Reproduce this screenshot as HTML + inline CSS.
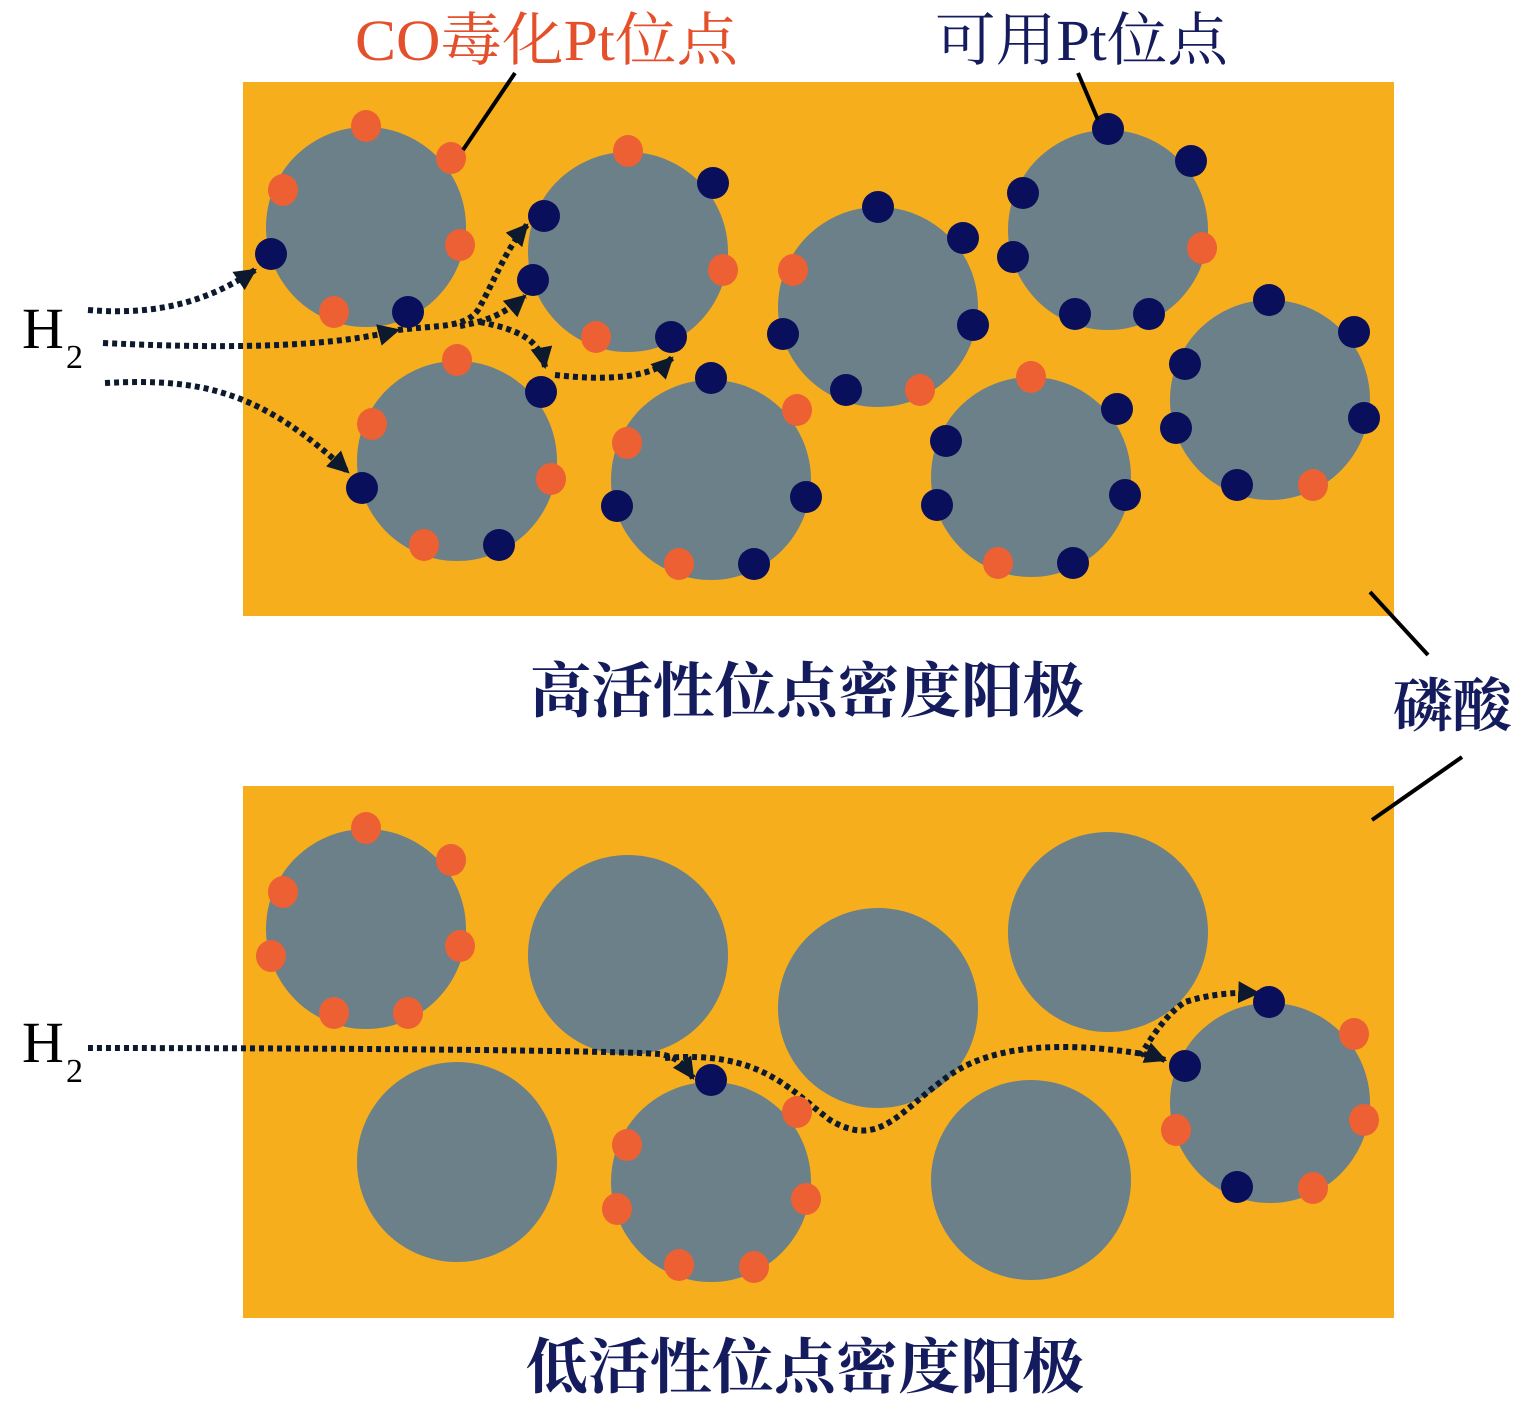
<!DOCTYPE html>
<html><head><meta charset="utf-8"><style>html,body{margin:0;padding:0;background:#fff}svg{display:block}</style></head>
<body>
<svg width="1528" height="1415" viewBox="0 0 1528 1415" xmlns="http://www.w3.org/2000/svg">
<defs>
<marker id="ah" markerWidth="8" markerHeight="8" refX="6" refY="4" orient="auto" markerUnits="userSpaceOnUse" viewBox="0 0 8 8">
</marker>
<marker id="a" viewBox="0 0 10 10" refX="9" refY="5" markerWidth="22" markerHeight="22" markerUnits="userSpaceOnUse" orient="auto"><path d="M0,0 L10,5 L0,10 Z" fill="#0d1a2e"/></marker>
</defs>
<rect x="243" y="82" width="1151" height="534" fill="#F6AE1C"/>
<rect x="243" y="786" width="1151" height="532" fill="#F6AE1C"/>
<g fill="#6B8088">
<circle cx="366" cy="227" r="100"/><circle cx="628" cy="252" r="100"/><circle cx="878" cy="307" r="100"/><circle cx="1108" cy="230" r="100"/><circle cx="1270" cy="400" r="100"/><circle cx="457" cy="461" r="100"/><circle cx="711" cy="480" r="100"/><circle cx="1031" cy="477" r="100"/>
<circle cx="366" cy="929" r="100"/><circle cx="628" cy="955" r="100"/><circle cx="878" cy="1008" r="100"/><circle cx="1108" cy="932" r="100"/><circle cx="1270" cy="1103" r="100"/><circle cx="457" cy="1162" r="100"/><circle cx="711" cy="1182" r="100"/><circle cx="1031" cy="1180" r="100"/>
</g>
<g fill="none" stroke="#0d1a2e" stroke-width="6" stroke-dasharray="5 4">
<path d="M88,310 C160,316 210,300 255,270" marker-end="url(#a)"/>
<path d="M103,343 C250,350 340,345 398,330" marker-end="url(#a)"/>
<path d="M398,330 C440,325 465,328 478,310 C495,280 505,250 527,225" marker-end="url(#a)"/>
<path d="M460,326 C480,322 500,318 525,296" marker-end="url(#a)"/>
<path d="M480,322 C520,330 540,340 545,367" marker-end="url(#a)"/>
<path d="M555,375 C600,380 650,380 672,358" marker-end="url(#a)"/>
<path d="M105,383 C200,378 260,390 348,472" marker-end="url(#a)"/>
<path d="M88,1048 C300,1048 600,1050 660,1054 C680,1058 685,1066 693,1078" marker-end="url(#a)"/>
<path d="M665,1058 C760,1050 790,1090 830,1120 C880,1150 900,1110 950,1075 C1000,1040 1080,1045 1130,1052 C1145,1054 1155,1056 1165,1060" marker-end="url(#a)"/>
<path d="M1140,1056 C1150,1040 1165,1015 1185,1002 C1210,994 1235,992 1258,993" marker-end="url(#a)"/>
</g>
<g fill="#EC6034">
<ellipse cx="366" cy="126" rx="15" ry="16"/><ellipse cx="451" cy="158" rx="15" ry="16"/><ellipse cx="283" cy="190" rx="15" ry="16"/><ellipse cx="460" cy="245" rx="15" ry="16"/><ellipse cx="334" cy="312" rx="15" ry="16"/>
<ellipse cx="628" cy="151" rx="15" ry="16"/><ellipse cx="723" cy="270" rx="15" ry="16"/><ellipse cx="596" cy="337" rx="15" ry="16"/>
<ellipse cx="793" cy="270" rx="15" ry="16"/><ellipse cx="920" cy="390" rx="15" ry="16"/>
<ellipse cx="1202" cy="248" rx="15" ry="16"/><ellipse cx="1313" cy="485" rx="15" ry="16"/>
<ellipse cx="457" cy="360" rx="15" ry="16"/><ellipse cx="372" cy="424" rx="15" ry="16"/><ellipse cx="551" cy="479" rx="15" ry="16"/><ellipse cx="424" cy="545" rx="15" ry="16"/>
<ellipse cx="797" cy="410" rx="15" ry="16"/><ellipse cx="627" cy="443" rx="15" ry="16"/><ellipse cx="679" cy="564" rx="15" ry="16"/>
<ellipse cx="1031" cy="377" rx="15" ry="16"/><ellipse cx="998" cy="563" rx="15" ry="16"/>
<ellipse cx="366" cy="828" rx="15" ry="16"/><ellipse cx="451" cy="860" rx="15" ry="16"/><ellipse cx="283" cy="892" rx="15" ry="16"/><ellipse cx="460" cy="946" rx="15" ry="16"/><ellipse cx="271" cy="956" rx="15" ry="16"/><ellipse cx="334" cy="1013" rx="15" ry="16"/><ellipse cx="408" cy="1013" rx="15" ry="16"/>
<ellipse cx="1354" cy="1034" rx="15" ry="16"/><ellipse cx="1364" cy="1120" rx="15" ry="16"/><ellipse cx="1176" cy="1130" rx="15" ry="16"/><ellipse cx="1313" cy="1188" rx="15" ry="16"/>
<ellipse cx="797" cy="1112" rx="15" ry="16"/><ellipse cx="627" cy="1145" rx="15" ry="16"/><ellipse cx="806" cy="1199" rx="15" ry="16"/><ellipse cx="617" cy="1209" rx="15" ry="16"/><ellipse cx="679" cy="1265" rx="15" ry="16"/><ellipse cx="754" cy="1267" rx="15" ry="16"/>
</g>
<g fill="#0A0F5C">
<ellipse cx="271" cy="254" rx="16" ry="16"/><ellipse cx="408" cy="312" rx="16" ry="16"/>
<ellipse cx="713" cy="183" rx="16" ry="16"/><ellipse cx="544" cy="216" rx="16" ry="16"/><ellipse cx="533" cy="280" rx="16" ry="16"/><ellipse cx="671" cy="337" rx="16" ry="16"/>
<ellipse cx="878" cy="207" rx="16" ry="16"/><ellipse cx="963" cy="238" rx="16" ry="16"/><ellipse cx="973" cy="325" rx="16" ry="16"/><ellipse cx="783" cy="334" rx="16" ry="16"/><ellipse cx="846" cy="390" rx="16" ry="16"/>
<ellipse cx="1108" cy="129" rx="16" ry="16"/><ellipse cx="1191" cy="161" rx="16" ry="16"/><ellipse cx="1023" cy="193" rx="16" ry="16"/><ellipse cx="1013" cy="257" rx="16" ry="16"/><ellipse cx="1075" cy="314" rx="16" ry="16"/><ellipse cx="1149" cy="314" rx="16" ry="16"/>
<ellipse cx="1269" cy="300" rx="16" ry="16"/><ellipse cx="1354" cy="332" rx="16" ry="16"/><ellipse cx="1185" cy="364" rx="16" ry="16"/><ellipse cx="1364" cy="418" rx="16" ry="16"/><ellipse cx="1176" cy="428" rx="16" ry="16"/><ellipse cx="1237" cy="485" rx="16" ry="16"/>
<ellipse cx="541" cy="392" rx="16" ry="16"/><ellipse cx="362" cy="488" rx="16" ry="16"/><ellipse cx="499" cy="545" rx="16" ry="16"/>
<ellipse cx="711" cy="378" rx="16" ry="16"/><ellipse cx="617" cy="506" rx="16" ry="16"/><ellipse cx="806" cy="497" rx="16" ry="16"/><ellipse cx="754" cy="564" rx="16" ry="16"/>
<ellipse cx="1117" cy="409" rx="16" ry="16"/><ellipse cx="946" cy="441" rx="16" ry="16"/><ellipse cx="937" cy="505" rx="16" ry="16"/><ellipse cx="1125" cy="495" rx="16" ry="16"/><ellipse cx="1073" cy="563" rx="16" ry="16"/>
<ellipse cx="1269" cy="1002" rx="16" ry="16"/><ellipse cx="1185" cy="1066" rx="16" ry="16"/><ellipse cx="1237" cy="1187" rx="16" ry="16"/>
<ellipse cx="711" cy="1080" rx="16" ry="16"/>
</g>
<g stroke="#000" stroke-width="4">
<line x1="515" y1="73" x2="463" y2="150"/><line x1="1078" y1="73" x2="1098" y2="120"/>
<line x1="1370" y1="592" x2="1428" y2="655"/><line x1="1462" y1="757" x2="1372" y2="820"/>
</g>
<g font-family="'Liberation Serif','Noto Serif CJK SC',serif">
<text x="355" y="60" font-size="58" fill="#E4502B" textLength="383" lengthAdjust="spacingAndGlyphs">CO毒化Pt位点</text>
<text x="935" y="60" font-size="58" fill="#141c5e" textLength="293" lengthAdjust="spacingAndGlyphs">可用Pt位点</text>
<text x="530" y="712" font-size="60" fill="#141c5e" font-weight="bold" textLength="554" lengthAdjust="spacingAndGlyphs">高活性位点密度阳极</text>
<text x="526" y="1388" font-size="60" fill="#141c5e" font-weight="bold" textLength="558" lengthAdjust="spacingAndGlyphs">低活性位点密度阳极</text>
<text x="1393" y="726" font-size="58" fill="#141c5e" font-weight="bold" textLength="119" lengthAdjust="spacingAndGlyphs">磷酸</text>
<text x="22" y="348" font-size="58" fill="#000">H</text><text x="66" y="368" font-size="34" fill="#000">2</text>
<text x="22" y="1062" font-size="58" fill="#000">H</text><text x="66" y="1082" font-size="34" fill="#000">2</text>
</g>
</svg>
</body></html>
